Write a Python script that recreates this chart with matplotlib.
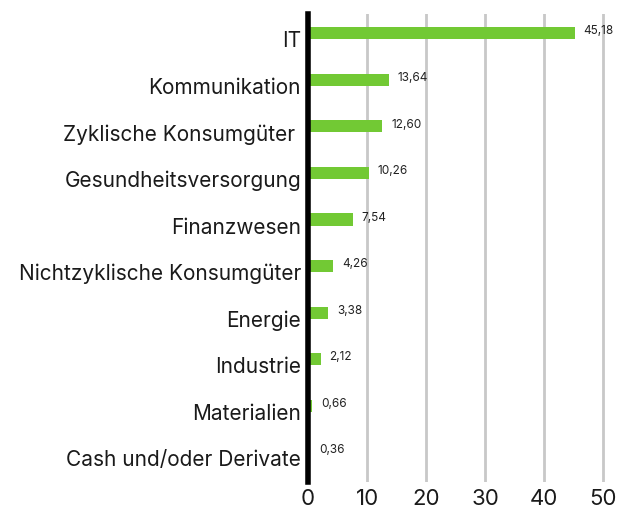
import matplotlib.pyplot as plt
from matplotlib.transforms import ScaledTranslation

sectors = ["IT", "Kommunikation", "Zyklische Konsumgüter ", "Gesundheitsversorgung",
           "Finanzwesen", "Nichtzyklische Konsumgüter", "Energie", "Industrie",
           "Materialien", "Cash und/oder Derivate"]
weights = [45.18, 13.64, 12.60, 10.26, 7.54, 4.26, 3.38, 2.12, 0.66, 0.36]
x_ticks = [0, 10, 20, 30, 40, 50]

plt.rcParams["font.family"] = ["Inter", "DejaVu Sans"]

fig = plt.figure(figsize=(6.24, 5.08), dpi=100)
ax = fig.add_axes([0.4936, 0.051, 0.478, 0.921])

pos = list(range(len(sectors)))
ax.barh(pos, weights, height=0.26, color="#72c934", zorder=3)

for p, w in zip(pos, weights):
    label = f"{w:.2f}".replace(".", ",")
    ax.text(w + 1.5, p - 0.04, label, va="center", ha="left", fontsize=8.5, color="#222222")

ax.set_xlim(0, 50.5)
ax.set_ylim(9.64, -0.41)
ax.set_yticks(pos)
ax.set_yticklabels(sectors, fontsize=15, color="#1a1a1a")
ax.set_xticks(x_ticks)
ax.set_xticklabels([str(t) for t in x_ticks], fontsize=16, color="#1a1a1a")
ax.tick_params(length=0, pad=5)
ax.tick_params(axis="x", pad=5)

# the category labels sit a little below the bars
shift = ScaledTranslation(0, -6 / 100, fig.dpi_scale_trans)
for lbl in ax.get_yticklabels():
    lbl.set_transform(lbl.get_transform() + shift)

for t in x_ticks[1:]:
    ax.axvline(t, color="#c8c8c8", linewidth=2, zorder=1)

for s in ["top", "right", "bottom"]:
    ax.spines[s].set_visible(False)
ax.spines["left"].set_linewidth(4)
ax.spines["left"].set_color("black")
ax.spines["left"].set_zorder(4)

fig.savefig("out.png", dpi=100)
